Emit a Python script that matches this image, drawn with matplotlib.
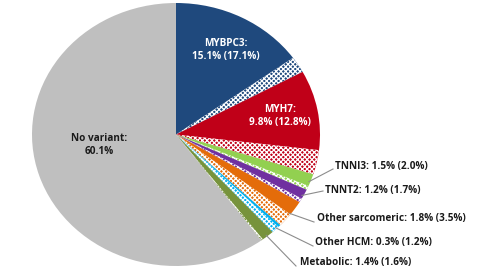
import matplotlib
matplotlib.use("Agg")
import matplotlib.pyplot as plt
import numpy as np

plt.rcParams['font.family'] = ['Open Sans', 'DejaVu Sans']
plt.rcParams['hatch.linewidth'] = 0.9

# Data
genes = ["MYBPC3", "MYH7", "TNNI3", "TNNT2", "Other sarcomeric", "Other HCM", "Metabolic"]
pathogenic = [15.1, 9.8, 1.5, 1.2, 1.8, 0.3, 1.4]   # solid part
total_incl_vus = [17.1, 12.8, 2.0, 1.7, 3.5, 1.2, 1.6]  # solid + hatched
no_variant = 60.1
colors = ["#1F497D", "#C00018", "#92D050", "#7030A0", "#E46C0A", "#00B0F0", "#77933C"]
grey = "#BFBFBF"

# Build wedge list
sizes, fcs, hatches = [], [], []
for p, t, c in zip(pathogenic, total_incl_vus, colors):
    sizes += [p, round(t - p, 1)]
    fcs += [c, c]
    hatches += [None, "xxxxxxx"]
sizes.append(no_variant)
fcs.append(grey)
hatches.append(None)

fig = plt.figure(figsize=(4.8, 2.7), dpi=100)
cx, cy, rx, ry = 176, 134.5, 144, 131.5
W, H = 480, 270
ax = fig.add_axes([(cx - rx) / W, 1 - (cy + ry) / H, 2 * rx / W, 2 * ry / H])
ax.axis('off')

wedges, _ = ax.pie(sizes, colors=fcs, startangle=90, counterclock=False,
                   radius=1, center=(0, 0), frame=False,
                   wedgeprops=dict(linewidth=0, edgecolor="white"))
for w, h in zip(wedges, hatches):
    if h:
        w.set_hatch(h)
        w.set_edgecolor("white")
        w.set_linewidth(0)
ax.set_xlim(-1, 1)
ax.set_ylim(-1, 1)
ax.set_aspect('auto')

def px(x, y):
    return ((x - cx) / rx, (cy - y) / ry)

fs = 7.2
# inside labels
ax.text(*px(226, 50), f"{genes[0]}:\n{pathogenic[0]}% ({total_incl_vus[0]}%)",
        ha='center', va='center', color='white', fontsize=fs, fontweight='bold', linespacing=1.3)
ax.text(*px(280, 116), f"{genes[1]}:\n{pathogenic[1]}% ({total_incl_vus[1]}%)",
        ha='center', va='center', color='white', fontsize=fs, fontweight='bold', linespacing=1.3)
ax.text(*px(99, 145), f"No variant:\n{no_variant}%",
        ha='center', va='center', color='#1a1a1a', fontsize=fs, fontweight='bold', linespacing=1.3)

# outside labels with leader lines
text_pos = [(335, 167), (325, 191), (317, 219), (315, 242), (300, 262)]
line_end = [(333, 169), (323, 191), (314, 222), (313, 246), (296, 266)]
cum = np.cumsum([0] + total_incl_vus)
for i in range(2, 7):
    mid = (cum[i] + cum[i + 1]) / 2
    ang = np.deg2rad(90 - mid * 3.6)
    sx, sy = np.cos(ang) * 0.99, np.sin(ang) * 0.99
    ex, ey = px(*line_end[i - 2])
    ax.plot([sx, ex], [sy, ey], color="#8C8C8C", lw=0.8, clip_on=False)
    tx, ty = px(*text_pos[i - 2])
    ax.text(tx, ty, f"{genes[i]}: {pathogenic[i]}% ({total_incl_vus[i]}%)",
            ha='left', va='center', color='#1a1a1a', fontsize=fs, fontweight='bold',
            clip_on=False)

fig.savefig("out.png", dpi=100)
